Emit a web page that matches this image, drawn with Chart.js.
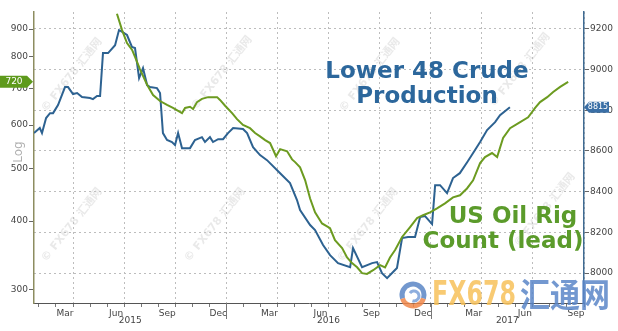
<!DOCTYPE html>
<html><head><meta charset="utf-8">
<script src="https://cdn.jsdelivr.net/npm/chart.js@4"></script>
<style>html,body{margin:0;padding:0;background:#fff}</style>
</head><body>
<canvas id="c" width="618" height="331"></canvas>
<script>
// x values are months since 1 Jan 2015 (12 = 1 Jan 2016)
const xTickMonths = [1,2,3,4,5,6,7,8,9,10,11,12,13,14,15,16,17,18,19,20,21,22,23,24,25,26,27,28,29,30,31,32,33];
const quarterLabels = {3:'Mar',6:'Jun',9:'Sep',0:'Dec'};
const yearLabels = ['2015','2016','2017'];
const leftTicks = [300,400,500,600,700,800,900];
const rightTicks = [8000,8200,8400,8600,8800,9000,9200];

// Lower 48 crude production (right axis, kb/d)
const prodMonths = [0.71,1.05,1.18,1.42,1.65,1.83,2.12,2.53,2.71,3.00,3.24,3.53,4.00,4.17,4.41,4.59,4.76,5.06,5.47,5.70,5.82,6.17,6.46,6.64,6.88,7.11,7.35,7.52,7.93,8.11,8.28,8.52,8.81,8.99,9.17,9.40,9.87,10.16,10.57,10.75,11.04,11.22,11.52,11.81,12.10,12.40,12.98,13.22,13.57,13.98,14.39,15.16,15.74,16.15,16.33,16.92,17.21,17.68,18.09,18.56,19.27,19.44,19.97,20.56,20.85,21.14,21.44,21.79,22.02,22.32,22.67,23.08,23.38,23.67,24.08,24.26,24.55,24.96,25.31,25.71,26.14,26.49,26.90,27.31,27.78,28.07,28.65];
const prodValues = [8688,8713,8688,8762,8786,8786,8826,8914,8914,8880,8885,8865,8860,8855,8870,8870,9081,9081,9120,9194,9189,9170,9111,9106,8958,9007,8924,8914,8909,8885,8688,8654,8644,8629,8688,8614,8614,8654,8668,8644,8668,8644,8658,8658,8688,8713,8708,8688,8619,8580,8555,8491,8442,8359,8310,8236,8211,8138,8088,8049,8029,8123,8029,8049,8054,8000,7975,8005,8025,8172,8177,8177,8275,8280,8241,8432,8432,8393,8467,8491,8545,8590,8644,8703,8742,8776,8815];

// US oil rig count, shifted forward (left axis, log)
const rigMonths = [5.58,5.88,6.17,6.47,6.64,6.93,7.35,7.70,8.11,8.52,8.87,9.40,9.58,9.87,10.05,10.28,10.57,10.93,11.46,11.63,11.93,12.34,12.63,12.98,13.39,13.69,13.98,14.28,14.57,14.92,15.16,15.57,15.86,16.04,16.33,16.63,16.92,17.21,17.62,18.09,18.38,18.80,19.09,19.38,19.68,19.97,20.26,20.62,21.03,21.32,21.61,21.91,22.32,22.79,23.20,23.55,23.96,24.37,24.84,25.31,25.72,26.13,26.49,26.90,27.19,27.60,27.90,28.25,28.66,29.13,29.72,30.13,30.42,30.84,31.19,31.60,32.07];
const rigValues = [960,896,848,824,800,760,711,681,664,653,645,631,645,648,642,661,670,675,675,667,651,631,615,600,592,580,572,563,556,526,542,537,519,513,502,475,440,415,396,388,369,357,343,335,329,321,320,325,332,329,343,354,374,390,405,410,415,422,431,442,446,459,475,511,524,533,524,568,592,604,620,645,661,675,690,705,720];

const BLUE = '#2d6291', GREEN = '#6c9b20';

const overlay = {
  id: 'overlay',
  beforeDatasetsDraw(chart) {
    const ctx = chart.ctx;
    ctx.save();
    ctx.fillStyle = 'rgba(200,200,200,0.4)';
    ctx.font = 'bold 11px "DejaVu Sans", "Noto Sans CJK SC"';
    ctx.textAlign = 'center'; ctx.textBaseline = 'middle';
    [[72,75],[72,225],[222,73],[215,225],[370,75],[368,225],[520,70],[545,210]].forEach(p => {
      ctx.save(); ctx.translate(p[0], p[1]); ctx.rotate(-0.9);
      ctx.fillText('© FX678 汇通网', 0, 0); ctx.restore();
    });
    ctx.restore();
  },
  afterDraw(chart) {
    const ctx = chart.ctx;
    const x = chart.scales.x, yL = chart.scales.yL, yR = chart.scales.yR;
    ctx.save();
    // year labels and separators
    ctx.font = '9px "DejaVu Sans"'; ctx.fillStyle = '#444';
    ctx.textAlign = 'center'; ctx.textBaseline = 'middle';
    const bounds = [x.min, 12, 24, x.max];
    yearLabels.forEach((t, i) => {
      const c = x.getPixelForValue((bounds[i] + bounds[i+1]) / 2);
      ctx.fillText(t, c, 321);
    });
    ctx.strokeStyle = '#777'; ctx.lineWidth = 1;
    [12, 24].forEach(v => {
      const px = Math.round(x.getPixelForValue(v)) + 0.5;
      ctx.beginPath(); ctx.moveTo(px, x.top); ctx.lineTo(px, x.top + 16); ctx.stroke();
    });
    // Log label
    ctx.save(); ctx.translate(19, 152); ctx.rotate(-Math.PI/2);
    ctx.fillStyle = '#b0b0b0'; ctx.font = '12px "DejaVu Sans"';
    ctx.fillText('Log', 0, 0); ctx.restore();
    // Titles
    ctx.font = 'bold 23px "DejaVu Sans"';
    ctx.fillStyle = '#2c679c';
    ctx.fillText('Lower 48 Crude', 427, 72);
    ctx.fillText('Production', 427, 97);
    ctx.fillStyle = '#5b9b2b';
    ctx.fillText('US Oil Rig', 513, 217);
    ctx.fillText('Count (lead)', 503, 242);
    // last value boxes
    const ly = yL.getPixelForValue(rigValues[rigValues.length-1]);
    ctx.fillStyle = '#5e9a1c';
    ctx.beginPath(); ctx.moveTo(0, ly-6); ctx.lineTo(27, ly-6); ctx.lineTo(33, ly); ctx.lineTo(27, ly+6); ctx.lineTo(0, ly+6); ctx.closePath(); ctx.fill();
    ctx.fillStyle = '#fff'; ctx.font = '9px "DejaVu Sans"';
    ctx.fillText(String(rigValues[rigValues.length-1]), 14, ly);
    const ry = yR.getPixelForValue(prodValues[prodValues.length-1]);
    ctx.fillStyle = '#3a6fa6';
    ctx.beginPath(); ctx.moveTo(584, ry); ctx.lineTo(589, ry-5.5); ctx.lineTo(609, ry-5.5); ctx.lineTo(609, ry+5.5); ctx.lineTo(589, ry+5.5); ctx.closePath(); ctx.fill();
    ctx.fillStyle = '#fff'; ctx.font = '8px "DejaVu Sans"';
    ctx.fillText(String(prodValues[prodValues.length-1]), 598, ry);
    // logo watermark
    ctx.globalAlpha = 0.85;
    const cx = 413, cy = 295;
    ctx.lineWidth = 5;
    ctx.strokeStyle = '#5a86c6'; ctx.beginPath(); ctx.arc(cx, cy, 11, Math.PI*0.9, Math.PI*2.1); ctx.stroke();
    ctx.strokeStyle = '#f0874a'; ctx.beginPath(); ctx.arc(cx, cy, 11, Math.PI*0.1, Math.PI*0.9); ctx.stroke();
    ctx.lineWidth = 3;
    ctx.strokeStyle = '#7aa0d8'; ctx.beginPath(); ctx.arc(cx+1, cy+1, 5, Math.PI*1.2, Math.PI*2.6); ctx.stroke();
    const g = ctx.createLinearGradient(432, 0, 516, 0);
    g.addColorStop(0, '#f7c15a'); g.addColorStop(1, '#e8663e');
    ctx.fillStyle = g;
    ctx.font = 'bold 34px "DejaVu Sans"';
    ctx.textAlign = 'left';
    const w = ctx.measureText('FX678').width;
    ctx.save(); ctx.translate(432, 296); ctx.scale(84 / w, 1);
    ctx.fillText('FX678', 0, 0); ctx.restore();
    ctx.fillStyle = '#5b86c8';
    ctx.font = 'bold 30px "Noto Sans CJK SC"';
    const w2 = ctx.measureText('汇通网').width;
    ctx.save(); ctx.translate(520, 294); ctx.scale(90 / w2, 1.1);
    ctx.fillText('汇通网', 0, 0); ctx.restore();
    ctx.restore();
  }
};

new Chart(document.getElementById('c'), {
  type: 'line',
  data: {
    datasets: [
      { label: 'US Oil Rig Count (lead)', data: rigMonths.map((m,i)=>({x:m, y:rigValues[i]})), yAxisID: 'yL',
        borderColor: GREEN, borderWidth: 2, pointRadius: 0, tension: 0, fill: false },
      { label: 'Lower 48 Crude Production', data: prodMonths.map((m,i)=>({x:m, y:prodValues[i]})), yAxisID: 'yR',
        borderColor: BLUE, borderWidth: 2, pointRadius: 0, tension: 0, fill: false }
    ]
  },
  options: {
    responsive: false, animation: false, devicePixelRatio: 1,
    layout: { padding: { top: 12, left: 0, right: 0, bottom: 0 } },
    plugins: { legend: { display: false }, tooltip: { enabled: false } },
    scales: {
      x: {
        type: 'linear', min: 0.71, max: 33.0,
        afterBuildTicks: s => { s.ticks = xTickMonths.map(v => ({ value: v })); },
        afterFit: s => { s.height = 28; },
        ticks: { autoSkip: false, maxRotation: 0, minRotation: 0, labelOffset: -8, padding: 1,
          font: { size: 9, family: '"DejaVu Sans"' }, color: '#444',
          callback: v => quarterLabels[v % 12] || '' },
        grid: { color: c => (c.tick && c.tick.value % 3 === 0) ? '#bdbdbd' : 'rgba(0,0,0,0)',
          tickColor: '#777', tickLength: 4, lineWidth: 1 },
        border: { color: '#555', width: 1, dash: [2, 3] }
      },
      yL: {
        type: 'logarithmic', position: 'left', min: 283, max: 967,
        afterBuildTicks: s => { s.ticks = leftTicks.map(v => ({ value: v })); },
        afterFit: s => { s.width = 34; },
        ticks: { callback: v => String(v), font: { size: 9, family: '"DejaVu Sans"' }, color: '#444', padding: 1 },
        grid: { drawOnChartArea: false, tickLength: 5, tickColor: '#666' },
        border: { color: '#8d8d60', width: 1.5 }
      },
      yR: {
        type: 'linear', position: 'right', min: 7853, max: 9283,
        afterBuildTicks: s => { s.ticks = rightTicks.map(v => ({ value: v })); },
        afterFit: s => { s.width = 34; },
        ticks: { callback: v => String(v), font: { size: 9, family: '"DejaVu Sans"' }, color: '#444', padding: 1 },
        grid: { color: '#bdbdbd', lineWidth: 1, tickLength: 5, tickColor: '#666' },
        border: { color: '#3f6b92', width: 1.5, dash: [2, 3] }
      }
    }
  },
  plugins: [overlay]
});
</script>
</body></html>
